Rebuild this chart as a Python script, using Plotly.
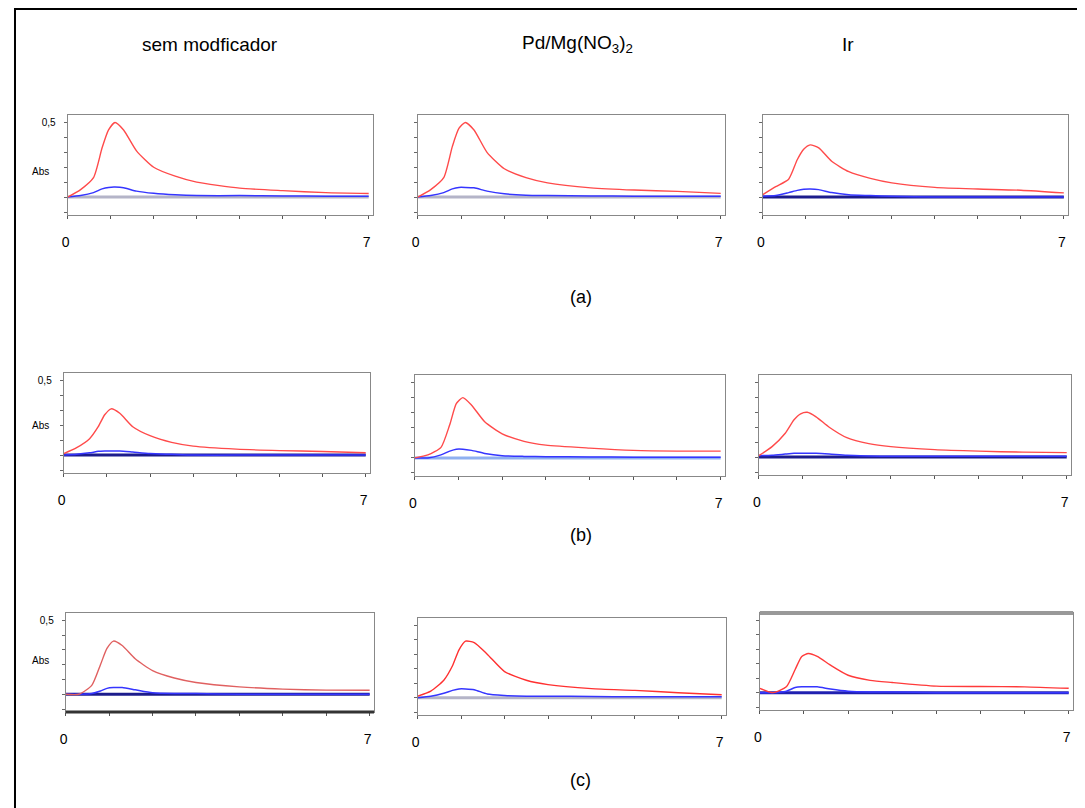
import plotly.graph_objects as go

W, H = 1085, 808
OFF = 8  # page body margin of the exported html

# ---------------- data ----------------
time_s = [0, 0.3, 0.6, 0.8, 0.95, 1.1, 1.3, 1.6, 2.0, 2.5, 3.0, 4.0, 5.0, 6.0, 7.0]
baseline = [0.0] * len(time_s)

red_a1 = [0.0, 0.05, 0.13, 0.33, 0.45, 0.50, 0.45, 0.31, 0.20, 0.14, 0.10, 0.06, 0.043, 0.03, 0.024]
red_a2 = [0.0, 0.05, 0.13, 0.34, 0.46, 0.50, 0.45, 0.30, 0.19, 0.13, 0.095, 0.062, 0.047, 0.038, 0.025]
red_a3 = [0.017, 0.07, 0.12, 0.25, 0.32, 0.35, 0.33, 0.24, 0.17, 0.125, 0.095, 0.065, 0.054, 0.046, 0.028]
red_b1 = [0.01, 0.05, 0.11, 0.19, 0.27, 0.31, 0.28, 0.19, 0.13, 0.085, 0.06, 0.04, 0.03, 0.024, 0.016]
red_b2 = [0.0, 0.02, 0.07, 0.22, 0.36, 0.40, 0.35, 0.24, 0.16, 0.11, 0.085, 0.065, 0.05, 0.045, 0.045]
red_b3 = [0.01, 0.07, 0.16, 0.25, 0.29, 0.30, 0.27, 0.20, 0.13, 0.09, 0.07, 0.05, 0.04, 0.033, 0.03]
red_c1 = [0.0, 0.0, 0.06, 0.20, 0.31, 0.36, 0.33, 0.24, 0.16, 0.11, 0.08, 0.05, 0.035, 0.028, 0.027]
red_c2 = [0.01, 0.045, 0.12, 0.22, 0.33, 0.39, 0.38, 0.30, 0.18, 0.12, 0.09, 0.062, 0.05, 0.034, 0.02]
red_c3 = [0.03, 0.0, 0.04, 0.16, 0.25, 0.27, 0.25, 0.19, 0.12, 0.085, 0.07, 0.045, 0.042, 0.04, 0.03]

blue_a1 = [0.0, 0.01, 0.03, 0.055, 0.065, 0.067, 0.063, 0.04, 0.025, 0.015, 0.01, 0.01, 0.008, 0.006, 0.006]
blue_a2 = [0.0, 0.01, 0.03, 0.055, 0.065, 0.065, 0.062, 0.04, 0.022, 0.012, 0.01, 0.008, 0.006, 0.006, 0.006]
blue_a3 = [0.005, 0.01, 0.03, 0.045, 0.052, 0.054, 0.05, 0.03, 0.015, 0.01, 0.005, 0.0, 0.0, 0.0, 0.0]
blue_b1 = [0.0, 0.005, 0.015, 0.025, 0.027, 0.027, 0.027, 0.02, 0.01, 0.005, 0.0, 0.0, 0.0, 0.0, 0.0]
blue_b2 = [0.0, 0.0, 0.02, 0.045, 0.058, 0.058, 0.05, 0.03, 0.015, 0.01, 0.008, 0.006, 0.005, 0.005, 0.005]
blue_b3 = [0.01, 0.012, 0.02, 0.025, 0.026, 0.026, 0.025, 0.02, 0.012, 0.008, 0.005, 0.005, 0.005, 0.005, 0.005]
blue_c1 = [0.0, 0.0, 0.005, 0.022, 0.04, 0.045, 0.045, 0.03, 0.01, 0.005, 0.005, 0.0, 0.0, 0.0, 0.0]
blue_c2 = [0.0, 0.01, 0.03, 0.05, 0.06, 0.06, 0.055, 0.025, 0.015, 0.01, 0.01, 0.008, 0.006, 0.006, 0.006]
blue_c3 = [0.0, 0.0, 0.01, 0.035, 0.04, 0.04, 0.04, 0.025, 0.01, 0.005, 0.005, 0.0, 0.0, 0.0, 0.0]

column_titles = ["sem modficador", "Pd/Mg(NO<sub>3</sub>)<sub>2</sub>", "Ir"]
row_labels = ["(a)", "(b)", "(c)"]
x_tickvals = [0, 1, 2, 3, 4, 5, 6, 7]
x_ticktext = ["0", "", "", "", "", "", "", "7"]
y_tickvals = [-0.1, 0.0, 0.1, 0.2, 0.3, 0.4, 0.5]
y_ticktext = ["", "", "", "", "", "", "0,5"]

# ---------------- layout helpers ----------------
def px_x(p):
    return (p - OFF) / W


def px_y(p):
    return 1 - (p - OFF) / H


# panel boxes in screen pixels: (left, right, top, bottom)
boxes = [
    (62, 369, 115, 215), (414, 723, 115, 215), (761, 1068, 115, 215),
    (58, 366, 373, 473), (411, 723, 375, 476), (757, 1071, 375, 475),
    (60, 370, 613, 712), (414, 724, 618, 715), (758, 1073, 613, 710),
]
reds = [red_a1, red_a2, red_a3, red_b1, red_b2, red_b3, red_c1, red_c2, red_c3]
blues = [blue_a1, blue_a2, blue_a3, blue_b1, blue_b2, blue_b3, blue_c1, blue_c2, blue_c3]
base_colors = ["#b4b4c8", "#b4b4c8", "#1c1c8c", "#1c1c8c", "#8fb0f0",
               "#1c1c8c", "#1c1c8c", "#b4b4c8", "#2020b0"]
red_colors = ["#ff4a4a"] * 6 + ["#e06060", "#ff3030", "#ff3a3a"]

FONT = "Liberation Sans, Arial, sans-serif"

fig = go.Figure()
layout = dict(
    width=W, height=H, margin=dict(l=0, r=0, t=0, b=0),
    paper_bgcolor="white", plot_bgcolor="white", showlegend=False,
    font=dict(family=FONT, color="black"),
)

for i, (l, r, t, b) in enumerate(boxes):
    n = "" if i == 0 else str(i + 1)
    xa, ya = "x" + n, "y" + n
    layout["xaxis" + n] = dict(
        domain=[px_x(l), px_x(r)], anchor=ya, range=[0, 7.1],
        tickvals=x_tickvals, ticktext=x_ticktext, ticks="outside", ticklen=3,
        tickcolor="#555", showline=True, linecolor="#888", linewidth=1, mirror=True,
        showgrid=False, zeroline=False, tickfont=dict(size=14, family=FONT),
        ticklabelstandoff=11, ticklabelshift=-2, fixedrange=True,
    )
    layout["yaxis" + n] = dict(
        domain=[px_y(b), px_y(t)], anchor=xa, range=[-0.12, 0.55],
        tickvals=y_tickvals, ticktext=y_ticktext if i % 3 == 0 else [""] * 7,
        ticks="outside", ticklen=3, tickcolor="#666",
        showline=True, linecolor="#888", linewidth=1, mirror=True,
        showgrid=False, zeroline=False, tickfont=dict(size=10, family=FONT),
        ticklabelstandoff=6, fixedrange=True,
    )
    fig.add_trace(go.Scatter(x=time_s, y=baseline, xaxis=xa, yaxis=ya, mode="lines",
                             line=dict(color=base_colors[i], width=3), hoverinfo="skip"))
    fig.add_trace(go.Scatter(x=time_s, y=blues[i], xaxis=xa, yaxis=ya, mode="lines",
                             line=dict(color="#3535ff", width=1.5, shape="spline", smoothing=0.6)))
    fig.add_trace(go.Scatter(x=time_s, y=reds[i], xaxis=xa, yaxis=ya, mode="lines",
                             line=dict(color=red_colors[i], width=1.4, shape="spline", smoothing=0.6)))

shapes = [
    # outer frame
    dict(type="rect", xref="paper", yref="paper", x0=px_x(9), x1=1.05, y0=-0.05, y1=px_y(9),
         line=dict(color="black", width=2), fillcolor="rgba(0,0,0,0)", layer="above"),
    # thick bottom of panel c1, thick top of panel c3
    dict(type="line", xref="x7 domain", yref="y7 domain", x0=0, x1=1, y0=0, y1=0,
         line=dict(color="#333", width=3)),
    dict(type="line", xref="x9 domain", yref="y9 domain", x0=0, x1=1, y0=1, y1=1,
         line=dict(color="#999", width=4)),
]

annotations = []
title_x = [205, 575, 847]
for tx, txt in zip(title_x, column_titles):
    annotations.append(dict(text=txt, x=px_x(tx), y=px_y(44), xref="paper", yref="paper",
                            xanchor="center", yanchor="middle",
                            showarrow=False, font=dict(size=19, family=FONT)))
row_y = [297, 535, 780]
for ry, txt in zip(row_y, row_labels):
    annotations.append(dict(text=txt, x=px_x(578), y=px_y(ry), xref="paper", yref="paper",
                            xanchor="center", yanchor="middle",
                            showarrow=False, font=dict(size=18, family=FONT)))
abs_y = [172, 425, 660]
for ay in abs_y:
    annotations.append(dict(text="Abs", x=px_x(35), y=px_y(ay), xref="paper", yref="paper",
                            xanchor="center", yanchor="middle",
                            showarrow=False, font=dict(size=10, family=FONT)))

layout["shapes"] = shapes
layout["annotations"] = annotations
fig.update_layout(**layout)
fig.write_html("out.html")
